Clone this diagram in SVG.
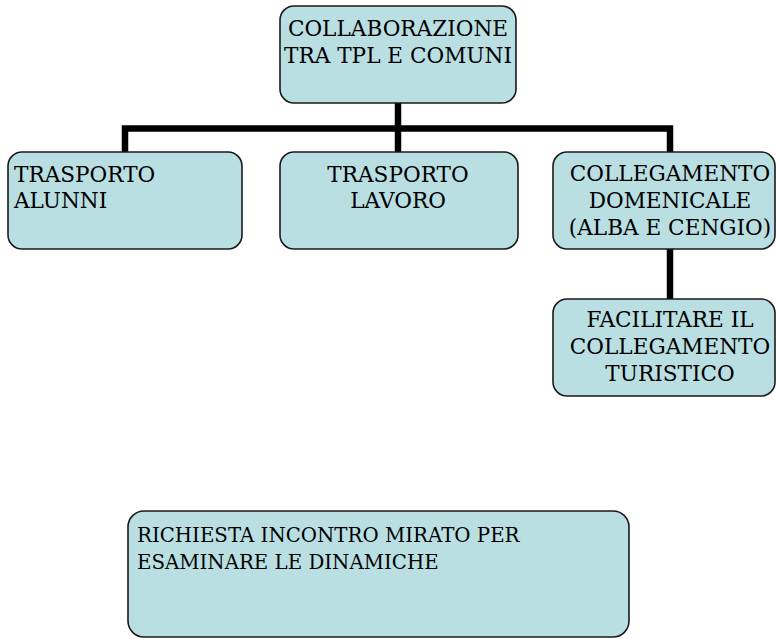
<svg xmlns="http://www.w3.org/2000/svg" width="776" height="639" viewBox="0 0 776 639">
<style>
.box{fill:#B9DFE3;stroke:#1a1a1a;stroke-width:1.6}
.t{font-family:"DejaVu Serif","Liberation Serif",serif;font-size:21.6px;fill:#000}
.s{font-size:19.8px}
.c{text-anchor:middle}
.con{stroke:#000;stroke-width:6.5;fill:none;stroke-linejoin:miter;stroke-linecap:butt}
</style>
<rect width="776" height="639" fill="#fff"/>
<g id="connectors">
<polyline class="con" points="125,152 125,128.5 670,128.5 670,152"/>
<line class="con" x1="398" y1="103" x2="398" y2="152"/>
<line class="con" x1="670" y1="249" x2="670" y2="299"/>
</g>
<g id="n-collaborazione">
<rect class="box" x="280" y="6" width="236" height="97" rx="14"/>
<text class="t c" x="398" y="35.5">COLLABORAZIONE</text>
<text class="t c" x="398" y="62.5">TRA TPL E COMUNI</text>
</g>
<g id="n-alunni">
<rect class="box" x="8" y="152" width="234" height="97" rx="14"/>
<text class="t" x="14" y="181.5">TRASPORTO</text>
<text class="t" x="14" y="208">ALUNNI</text>
</g>
<g id="n-lavoro">
<rect class="box" x="280" y="152" width="238" height="97" rx="14"/>
<text class="t c" x="398" y="181.5">TRASPORTO</text>
<text class="t c" x="398" y="208">LAVORO</text>
</g>
<g id="n-domenicale">
<rect class="box" x="553" y="152" width="222" height="97" rx="14"/>
<text class="t c" x="670" y="181">COLLEGAMENTO</text>
<text class="t c" x="670" y="208">DOMENICALE</text>
<text class="t c" x="670" y="235">(ALBA E CENGIO)</text>
</g>
<g id="n-turistico">
<rect class="box" x="553" y="299" width="222" height="97" rx="14"/>
<text class="t c" x="670" y="327">FACILITARE IL</text>
<text class="t c" x="670" y="354">COLLEGAMENTO</text>
<text class="t c" x="670" y="381">TURISTICO</text>
</g>
<g id="n-richiesta">
<rect class="box" x="128" y="511" width="501" height="126" rx="16"/>
<text class="t s" x="137" y="542">RICHIESTA INCONTRO MIRATO PER</text>
<text class="t s" x="137" y="568.5">ESAMINARE LE DINAMICHE</text>
</g>
</svg>
